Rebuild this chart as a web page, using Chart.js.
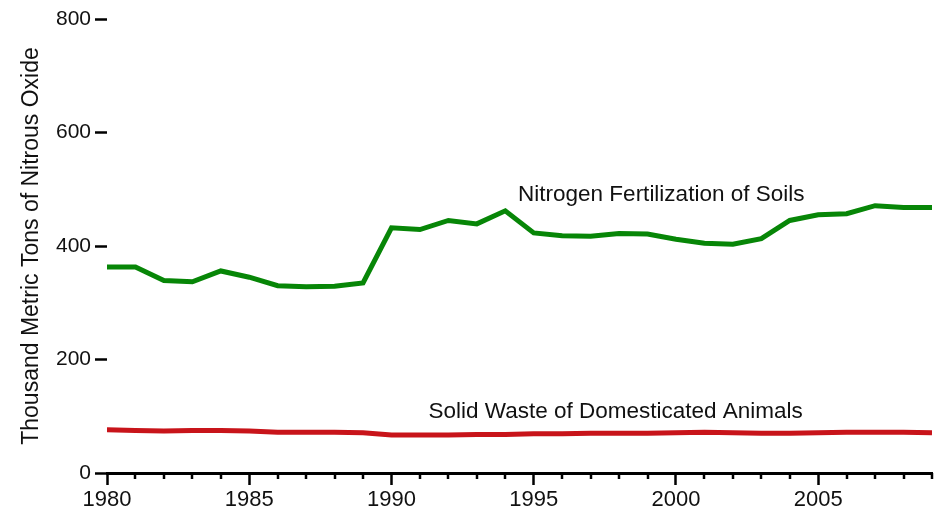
<!DOCTYPE html>
<html>
<head>
<meta charset="utf-8">
<script src="https://cdn.jsdelivr.net/npm/chart.js@4"></script>
<style>
  html, body { margin: 0; padding: 0; background: #fff; }
  #wrap { width: 936px; height: 513px; }
</style>
</head>
<body>
<div id="wrap"><canvas id="chart" width="936" height="513"></canvas></div>
<script>
const years = [1980, 1981, 1982, 1983, 1984, 1985, 1986, 1987, 1988, 1989,
  1990, 1991, 1992, 1993, 1994, 1995, 1996, 1997, 1998, 1999,
  2000, 2001, 2002, 2003, 2004, 2005, 2006, 2007, 2008, 2009];

const fertilization = [363, 363, 339, 337, 356, 345, 330, 328, 329, 335,
  432, 429, 445, 439, 462, 423, 418, 417, 422, 421,
  412, 405, 403, 413, 445, 455, 457, 471, 468, 468];

const solidWaste = [76, 75, 74, 75, 75, 74, 72, 72, 72, 71,
  67, 67, 67, 68, 68, 69, 69, 70, 70, 70,
  71, 72, 71, 70, 70, 71, 72, 72, 72, 71];

const yTicks = [0, 200, 400, 600, 800];

const seriesLabels = [
  { text: 'Nitrogen Fertilization of Soils', x: 1994.45, y: 490 },
  { text: 'Solid Waste of Domesticated Animals', x: 1991.3, y: 107 },
];

const FONT = 'Liberation Sans, Arial, Helvetica, sans-serif';

// minor year ticks are shorter than the 5-year ones
const minorTicks = {
  id: 'minorTicks',
  afterDraw(chart) {
    const x = chart.scales.x;
    const ctx = chart.ctx;
    const y0 = x.top;
    ctx.save();
    ctx.strokeStyle = '#000';
    ctx.lineWidth = 2.5;
    years.forEach(yr => {
      if (yr % 5 === 0) return;
      const px = Math.round(x.getPixelForValue(yr));
      ctx.beginPath();
      ctx.moveTo(px, y0);
      ctx.lineTo(px, y0 + 6);
      ctx.stroke();
    });
    ctx.restore();
  },
};

const lineLabels = {
  id: 'lineLabels',
  afterDatasetsDraw(chart) {
    const ctx = chart.ctx;
    const { x, y } = chart.scales;
    ctx.save();
    ctx.font = '22.5px ' + FONT;
    ctx.fillStyle = '#111';
    ctx.textAlign = 'left';
    ctx.textBaseline = 'middle';
    seriesLabels.forEach(l => {
      ctx.fillText(l.text, x.getPixelForValue(l.x), y.getPixelForValue(l.y));
    });
    ctx.restore();
  },
};

new Chart(document.getElementById('chart'), {
  type: 'line',
  data: {
    labels: years,
    datasets: [
      {
        label: 'Nitrogen Fertilization of Soils',
        data: years.map((yr, i) => ({ x: yr, y: fertilization[i] })),
        borderColor: '#078607',
        borderWidth: 5,
        pointRadius: 0,
        tension: 0,
      },
      {
        label: 'Solid Waste of Domesticated Animals',
        data: years.map((yr, i) => ({ x: yr, y: solidWaste[i] })),
        borderColor: '#c8141a',
        borderWidth: 5,
        pointRadius: 0,
        tension: 0,
      },
    ],
  },
  options: {
    responsive: false,
    animation: false,
    layout: { padding: { top: 19, right: 4, left: 0, bottom: 0 } },
    plugins: {
      legend: { display: false },
      tooltip: { enabled: false },
    },
    scales: {
      x: {
        type: 'linear',
        min: 1980,
        max: 2009,
        afterFit: s => { s.height = 40; },
        afterBuildTicks: s => {
          s.ticks = years.filter(yr => yr % 5 === 0).map(v => ({ value: v }));
        },
        border: { display: true, color: '#000', width: 3 },
        grid: {
          drawOnChartArea: false,
          tickLength: 12,
          tickWidth: 2.5,
          tickColor: '#000',
        },
        ticks: {
          padding: 2,
          color: '#111',
          font: { family: FONT, size: 22 },
          maxRotation: 0,
          callback: v => String(v),
        },
      },
      y: {
        min: 0,
        max: 800,
        afterFit: s => { s.width = 107; },
        afterBuildTicks: s => {
          s.ticks = yTicks.map(v => ({ value: v }));
        },
        border: { display: false },
        grid: {
          drawOnChartArea: false,
          tickLength: 12,
          tickWidth: 2.5,
          tickColor: '#000',
        },
        ticks: {
          padding: 4,
          color: '#111',
          font: { family: FONT, size: 21 },
        },
        title: {
          display: true,
          text: 'Thousand Metric Tons of Nitrous Oxide',
          color: '#111',
          font: { family: FONT, size: 23 },
          padding: { top: 18, bottom: 0 },
        },
      },
    },
  },
  plugins: [minorTicks, lineLabels],
});
</script>
</body>
</html>
